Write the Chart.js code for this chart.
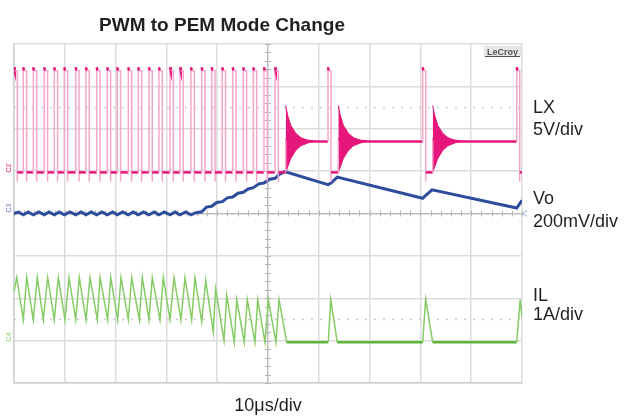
<!DOCTYPE html>
<html>
<head>
<meta charset="utf-8">
<script src="https://cdn.jsdelivr.net/npm/chart.js@4"></script>
<style>
  html, body { margin: 0; background: #fff; }
  canvas { display: block; }
</style>
</head>
<body>
<canvas id="scope" width="629" height="419"></canvas>
<script>
// scope capture: x in µs (10 div x 10µs), y in divisions (-4 .. 4, centre = 0)

// --- LX (switch node), 5V/div ---
const lxRise = [0, 1.83, 3.80, 5.96, 7.93, 9.90, 12.15, 14.17, 16.28, 18.37, 20.33, 22.50, 24.47,
                26.57, 28.54, 30.71, 32.68, 34.84, 36.95, 38.92, 41.00, 43.05, 45.14, 47.11, 49.21,
                51.38, 61.81, 80.45, 98.96];
const lxFall = [0.65, 2.48, 4.45, 6.61, 8.58, 10.55, 12.80, 14.82, 16.93, 19.02, 20.98, 23.15, 25.12,
                27.22, 29.19, 31.36, 33.33, 35.49, 37.60, 39.57, 41.65, 43.70, 45.79, 47.76, 49.86,
                52.03, 62.40, 81.05, 99.55];
const lxHigh = 3.37, lxSpike = 3.45, lxLow = 0.97, lxUnder = 0.75, lxIdle = 1.70, lxRingMid = 1.75;

const ringStart  = [53.48, 63.84, 82.42];
const ringOffset = [0, 0.4, 1.0, 2.0, 3.0, 4.5, 6.0];
const ringTop    = [2.55, 2.31, 2.08, 1.89, 1.79, 1.72, 1.70];
const ringBottom = [0.97, 1.10, 1.30, 1.49, 1.60, 1.67, 1.70];

// --- Vo, 200mV/div ---
const voTime = [0, 0.9, 1.83, 2.8, 3.8, 4.9, 5.96, 6.9, 7.93, 8.9, 9.9, 11.0, 12.15, 13.2, 14.17, 15.2,
                16.28, 17.3, 18.37, 19.4, 20.33, 21.4, 22.5, 23.5, 24.47, 25.5, 26.57, 27.6, 28.54, 29.6,
                30.71, 31.7, 32.68, 33.8, 34.84, 35.8,
                36.95, 37.9, 38.92, 39.9, 41.0, 42.0, 43.05, 44.1, 45.14, 46.1, 47.11, 48.2, 49.21, 50.3,
                51.38, 52.3, 53.3,
                61.81, 62.4, 63.64, 80.45, 81.0, 82.3, 98.96, 100];
const voAmp  = [0, 0.035, -0.03, 0.035, -0.03, 0.035, -0.03, 0.035, -0.03, 0.035, -0.03, 0.035, -0.03,
                0.035, -0.03, 0.035, -0.03, 0.035, -0.03, 0.035, -0.03, 0.035, -0.03, 0.035, -0.03,
                0.035, -0.03, 0.035, -0.03, 0.035, -0.03, 0.035, -0.03, 0.035, -0.03, 0.02,
                0.04, 0.15, 0.17, 0.26, 0.28, 0.37, 0.39, 0.48, 0.50, 0.58, 0.61, 0.70, 0.72, 0.81,
                0.83, 0.93, 0.99,
                0.68, 0.72, 0.86, 0.36, 0.42, 0.56, 0.13, 0.31];

// --- IL, 1A/div ---
const ilTime = [0, 0.53, 1.83, 2.50, 3.80, 4.59, 5.77, 6.63, 7.93, 8.72, 10.04, 10.83, 12.15, 12.85,
                14.17, 14.96, 16.40, 16.93, 18.44, 19.03, 20.41, 21.06, 22.50, 23.17, 24.67, 25.26,
                26.57, 27.22, 28.74, 29.39, 30.71, 31.50, 32.87, 33.66, 34.98, 35.63,
                36.95, 37.74, 39.23, 39.70, 41.34, 41.87, 43.37, 43.84, 45.33, 45.93, 47.44, 47.97,
                49.41, 50.06, 51.57, 52.17, 53.68,
                61.87, 62.34, 63.64, 80.45, 81.04, 82.42, 98.96, 99.63, 100];
const ilAmp  = [-1.85, -1.51, -2.51, -1.51, -2.51, -1.51, -2.51, -1.51, -2.51, -1.51, -2.51, -1.51,
                -2.51, -1.51, -2.51, -1.51, -2.51, -1.51, -2.51, -1.51, -2.51, -1.51, -2.51, -1.51,
                -2.51, -1.51, -2.51, -1.51, -2.51, -1.51, -2.51, -1.51, -2.51, -1.51, -2.51, -1.51,
                -2.56, -1.58, -2.80, -1.78, -3.00, -1.93, -3.04, -2.03, -3.04, -2.03, -3.04, -2.03,
                -3.04, -2.03, -3.04, -2.03, -3.04,
                -3.04, -2.02, -3.04, -3.04, -2.02, -3.04, -3.04, -2.03, -2.45];

// dotted cursor lines
const cursorLevels = [2.5, -2.5];

const PINK = '#e5177b', PINK_LIGHT = '#f7a6cb';
const BLUE = '#2d4d9c';
const GREEN = '#86cc66', GREEN_DARK = '#5fb53c';

function buildLx() {
  const pts = [];
  let level = lxHigh;
  lxRise.forEach((r, i) => {
    if (i > 0) pts.push({x: r, y: level});
    pts.push({x: r, y: lxSpike});
    pts.push({x: r + 0.15, y: lxHigh});
    pts.push({x: lxFall[i], y: lxHigh});
    pts.push({x: lxFall[i], y: lxUnder});
    pts.push({x: lxFall[i], y: lxLow});
    level = lxLow;
    const next = i + 1 < lxRise.length ? lxRise[i + 1] : 100;
    const rs = ringStart.find(s => s > lxFall[i] && s < next);
    if (rs !== undefined) {
      pts.push({x: rs, y: lxLow});
      pts.push({x: rs, y: lxRingMid});
      pts.push({x: rs + ringOffset[ringOffset.length - 1], y: lxIdle});
      level = lxIdle;
    }
  });
  pts.push({x: 100, y: level});
  return pts;
}

function lxLight(s) {
  const a = s.p0.parsed, b = s.p1.parsed;
  if (Math.abs(a.x - b.x) < 0.01) return true;
  return Math.abs(a.y - lxHigh) < 0.01 && Math.abs(b.y - lxHigh) < 0.01;
}

const datasets = [];

datasets.push({
  data: buildLx(),
  borderWidth: 2.5,
  borderColor: PINK,
  segment: {
    borderColor: s => lxLight(s) ? PINK_LIGHT : PINK,
    borderWidth: s => lxLight(s) ? 1.5 : 2.5
  }
});

ringStart.forEach(s => {
  datasets.push({
    data: ringOffset.map((o, k) => ({x: s + o, y: ringTop[k]})),
    borderColor: PINK, borderWidth: 1, backgroundColor: PINK, fill: '+1'
  });
  datasets.push({
    data: ringOffset.map((o, k) => ({x: s + o, y: ringBottom[k]})),
    borderColor: PINK, borderWidth: 1, fill: false
  });
});

datasets.push({
  data: voTime.map((t, i) => ({x: t, y: voAmp[i]})),
  borderColor: BLUE, borderWidth: 3
});

datasets.push({
  data: ilTime.map((t, i) => ({x: t, y: ilAmp[i]})),
  borderColor: GREEN, borderWidth: 1.5,
  segment: {
    borderColor: s => Math.abs(s.p0.parsed.y - s.p1.parsed.y) < 0.01 ? GREEN_DARK : GREEN,
    borderWidth: s => Math.abs(s.p0.parsed.y - s.p1.parsed.y) < 0.01 ? 2.5 : 1.5
  }
});

cursorLevels.forEach(l => {
  datasets.push({
    data: [{x: 0, y: l}, {x: 100, y: l}],
    borderColor: '#c9c9c9', borderWidth: 1.5, borderDash: [2, 7]
  });
});

const scopeDecor = {
  id: 'scopeDecor',
  beforeDatasetsDraw(chart) {
    const {ctx, scales: {x, y}} = chart;
    const cx = x.getPixelForValue(50), cy = y.getPixelForValue(0);
    ctx.save();
    ctx.strokeStyle = '#b5b5b5';
    ctx.lineWidth = 1;
    ctx.beginPath();
    for (let v = -4; v <= 4.001; v += 0.2) {
      const py = Math.round(y.getPixelForValue(v)) + 0.5;
      ctx.moveTo(cx - 3, py); ctx.lineTo(cx + 3, py);
    }
    for (let t = 0; t <= 100.001; t += 2) {
      const px = Math.round(x.getPixelForValue(t)) + 0.5;
      ctx.moveTo(px, cy - 3); ctx.lineTo(px, cy + 3);
    }
    ctx.stroke();
    ctx.restore();
  },
  afterDraw(chart) {
    const {ctx, chartArea: a} = chart;
    ctx.save();
    ctx.fillStyle = '#231f20';
    ctx.textBaseline = 'alphabetic';

    ctx.font = 'bold 19px "Liberation Sans", Arial, sans-serif';
    ctx.textAlign = 'center';
    ctx.fillText('PWM to PEM Mode Change', 222, 31);

    ctx.font = '18px "Liberation Sans", Arial, sans-serif';
    ctx.fillText('10μs/div', 268, 411);

    ctx.textAlign = 'left';
    const lx = a.right + 11;
    ctx.fillText('LX', lx, 113);
    ctx.fillText('5V/div', lx, 135);
    ctx.fillText('Vo', lx, 204);
    ctx.fillText('200mV/div', lx, 227);
    ctx.fillText('IL', lx, 301);
    ctx.fillText('1A/div', lx, 320);

    // LeCroy badge
    ctx.fillStyle = '#e6e6e6';
    ctx.fillRect(a.right - 38, a.top + 2, 37, 11);
    ctx.fillStyle = '#555';
    ctx.font = 'bold 9px "Liberation Sans", Arial, sans-serif';
    ctx.textAlign = 'center';
    ctx.fillText('LeCroy', a.right - 19.5, a.top + 11);
    ctx.fillRect(a.right - 37, a.top + 12, 35, 1);

    // channel markers
    const mark = (txt, col, py) => {
      ctx.save();
      ctx.translate(9, py);
      ctx.rotate(-Math.PI / 2);
      ctx.fillStyle = col;
      ctx.font = '7px "Liberation Sans", Arial, sans-serif';
      ctx.textAlign = 'center';
      ctx.fillText(txt, 0, 2);
      ctx.restore();
    };
    mark('C2', PINK, 168);
    mark('C3', '#6c7fc0', 208);
    mark('C4', GREEN, 337);

    // Vo offset arrow at right edge
    ctx.strokeStyle = '#8fa0d8';
    ctx.lineWidth = 1;
    ctx.beginPath();
    const vy = chart.scales.y.getPixelForValue(0);
    ctx.moveTo(a.right + 5, vy - 3); ctx.lineTo(a.right + 1, vy); ctx.lineTo(a.right + 5, vy + 3);
    ctx.stroke();
    ctx.restore();
  }
};

new Chart(document.getElementById('scope').getContext('2d'), {
  type: 'line',
  data: { datasets },
  options: {
    responsive: false,
    animation: false,
    layout: { padding: { left: 14, right: 107, top: 44, bottom: 36 } },
    plugins: { legend: { display: false }, tooltip: { enabled: false } },
    elements: { point: { radius: 0 }, line: { tension: 0 } },
    scales: {
      x: {
        type: 'linear', min: 0, max: 100,
        ticks: { display: false, stepSize: 10 },
        grid: { color: c => c.tick.value === 50 ? '#bdbdbd' : '#dcdcdc', lineWidth: 1.5, drawTicks: false },
        border: { color: '#d0d0d0', width: 1.5 }
      },
      y: {
        type: 'linear', min: -4, max: 4,
        ticks: { display: false, stepSize: 1 },
        grid: { color: c => c.tick.value === 0 ? '#bdbdbd' : '#dcdcdc', lineWidth: 1.5, drawTicks: false },
        border: { color: '#d0d0d0', width: 1.5 }
      }
    }
  },
  plugins: [scopeDecor]
});
</script>
</body>
</html>
